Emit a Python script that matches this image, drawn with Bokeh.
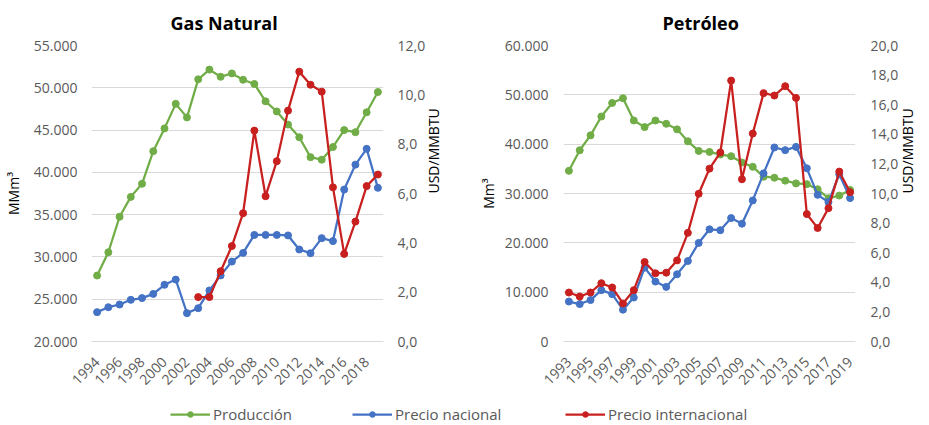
import math
from bokeh.plotting import figure
from bokeh.models import Range1d, LinearAxis, FixedTicker, Legend, LegendItem, ColumnDataSource
from bokeh.layouts import column, row
from bokeh.embed import file_html
from bokeh.resources import INLINE

# ---------------- data ----------------
gas_years = list(range(1994, 2020))
gas_produccion = [27800, 30550, 34750, 37100, 38650, 42500, 45200, 48100, 46500, 51000,
                  52150, 51300, 51700, 50950, 50450, 48400, 47200, 45650, 44150, 41800,
                  41500, 43000, 45000, 44750, 47100, 49500]
gas_precio_nacional = [1.19, 1.39, 1.50, 1.69, 1.76, 1.93, 2.30, 2.51, 1.15, 1.35,
                       2.07, 2.68, 3.24, 3.59, 4.32, 4.32, 4.32, 4.30, 3.73, 3.58,
                       4.19, 4.07, 6.16, 7.17, 7.81, 6.23]
gas_int_years = list(range(2003, 2020))
gas_precio_internacional = [1.80, 1.80, 2.85, 3.87, 5.20, 8.55, 5.89, 7.31, 9.36, 10.94,
                            10.41, 10.13, 6.25, 3.55, 4.86, 6.30, 6.77]

oil_years = list(range(1993, 2020))
oil_produccion = [34600, 38770, 41790, 45610, 48350, 49300, 44800, 43460, 44800, 44130,
                  43000, 40580, 38630, 38430, 37890, 37560, 36280, 35410, 33400, 33200,
                  32600, 32050, 31900, 30850, 29040, 29580, 30720]
oil_precio_nacional = [2.70, 2.53, 2.80, 3.47, 3.20, 2.15, 2.97, 4.99, 4.05, 3.69,
                       4.54, 5.44, 6.66, 7.58, 7.52, 8.34, 7.96, 9.53, 11.36, 13.11,
                       12.93, 13.15, 11.70, 9.91, 9.42, 11.30, 9.69]
oil_precio_internacional = [3.31, 3.04, 3.31, 3.94, 3.65, 2.57, 3.47, 5.37, 4.61, 4.65,
                            5.48, 7.34, 9.98, 11.68, 12.77, 17.63, 10.96, 14.05, 16.78, 16.62,
                            17.25, 16.46, 8.61, 7.67, 9.01, 11.48, 10.09]

gas_left_ticks = [20000, 25000, 30000, 35000, 40000, 45000, 50000, 55000]
gas_right_ticks = [0, 2, 4, 6, 8, 10, 12]
oil_left_ticks = [0, 10000, 20000, 30000, 40000, 50000, 60000]
oil_right_ticks = [0, 2, 4, 6, 8, 10, 12, 14, 16, 18, 20]
gas_x_ticks = list(range(1994, 2020, 2))
oil_x_ticks = list(range(1993, 2020, 2))

labels = ["Producción", "Precio nacional", "Precio internacional"]

# ---------------- style ----------------
FONT = "Open Sans"
GREEN = "#70ad47"
BLUE = "#4472c4"
RED = "#c8201f"
TXT = "#595959"
GRID = "#d9d9d9"
H = 395
TOP = 45
FRAME_H = 296
LW = 2.25
MS = 7


def fmt_thousands(v):
    return f"{int(v):,}".replace(",", ".")


def fmt_dec(v):
    return f"{v:.1f}".replace(".", ",")


def make_chart(title, width, lb, rb, xr, xticks, yr, yticks, ylabel, rr, rticks,
               lstand, llabstand, rstand, rlabstand, title_offset):
    p = figure(width=width, height=H, output_backend="svg", toolbar_location=None,
               x_range=Range1d(*xr), y_range=Range1d(*yr),
               min_border_left=lb, min_border_right=rb, min_border_top=TOP,
               min_border_bottom=H - TOP - FRAME_H, title=title)
    p.outline_line_color = None
    p.title.align = "left"
    p.title.offset = title_offset
    p.title.vertical_align = "top"
    p.title.text_font = FONT
    p.title.text_font_size = "18px"
    p.title.text_font_style = "bold"
    p.title.text_color = "#000000"
    p.title.standoff = 17
    p.extra_y_ranges = {"price": Range1d(*rr)}

    # x axis
    xa = p.xaxis[0]
    xa.ticker = FixedTicker(ticks=xticks)
    xa.major_label_orientation = math.pi / 4
    xa.major_tick_line_color = None
    xa.major_tick_out = 0
    xa.major_tick_in = 0
    xa.minor_tick_line_color = None
    xa.axis_line_color = GRID
    xa.major_label_text_font = FONT
    xa.major_label_text_font_size = "14px"
    xa.major_label_text_color = TXT
    xa.major_label_standoff = 18

    # left axis
    ya = p.yaxis[0]
    ya.ticker = FixedTicker(ticks=yticks)
    ya.major_label_overrides = {t: fmt_thousands(t) for t in yticks}
    ya.major_tick_line_color = None
    ya.major_tick_out = 0
    ya.major_tick_in = 0
    ya.minor_tick_line_color = None
    ya.axis_line_color = None
    ya.major_label_text_font = FONT
    ya.major_label_text_font_size = "14px"
    ya.major_label_text_color = TXT
    ya.major_label_standoff = lstand
    ya.axis_label = ylabel
    ya.axis_label_text_font = FONT
    ya.axis_label_text_font_size = "14px"
    ya.axis_label_text_font_style = "normal"
    ya.axis_label_text_color = "#000000"
    ya.axis_label_standoff = llabstand

    # right axis
    ra = LinearAxis(y_range_name="price", ticker=FixedTicker(ticks=rticks))
    ra.major_label_overrides = {t: fmt_dec(t) for t in rticks}
    ra.major_tick_line_color = None
    ra.major_tick_out = 0
    ra.major_tick_in = 0
    ra.minor_tick_line_color = None
    ra.axis_line_color = None
    ra.major_label_text_font = FONT
    ra.major_label_text_font_size = "14px"
    ra.major_label_text_color = TXT
    ra.major_label_standoff = rstand
    ra.axis_label = "USD/MMBTU"
    ra.axis_label_text_font = FONT
    ra.axis_label_text_font_size = "14px"
    ra.axis_label_text_font_style = "normal"
    ra.axis_label_text_color = "#000000"
    ra.axis_label_standoff = rlabstand
    ra.axis_label_orientation = math.pi / 2
    p.add_layout(ra, "right")

    p.xgrid.visible = False
    p.ygrid.grid_line_color = GRID
    p.ygrid.grid_line_width = 1
    p.ygrid.ticker = FixedTicker(ticks=yticks)
    return p


def add_series(p, x, y, color, range_name=None):
    kw = {} if range_name is None else {"y_range_name": range_name}
    src = ColumnDataSource(dict(x=x, y=y))
    ln = p.line("x", "y", source=src, line_color=color, line_width=LW, **kw)
    sc = p.scatter("x", "y", source=src, marker="circle", size=MS, fill_color=color,
                   line_color=color, **kw)
    return ln, sc


# page has no margin: p1 0..455 (frame 88..385), p2 455..929 (frame 563..860)
p1 = make_chart("Gas Natural", 455, 88, 70, (1993.5, 2019.5), gas_x_ticks,
                (20000, 55000), gas_left_ticks, "MMm³", (0, 12), gas_right_ticks,
                14, 8, 14, 5, 79)
add_series(p1, gas_years, gas_produccion, GREEN)
add_series(p1, gas_years, gas_precio_nacional, BLUE, "price")
add_series(p1, gas_int_years, gas_precio_internacional, RED, "price")

p2 = make_chart("Petróleo", 474, 108, 69, (1992.5, 2019.5), oil_x_ticks,
                (0, 60000), oil_left_ticks, "Mm³", (0, 20), oil_right_ticks,
                15, 4, 15, 6, 99)
add_series(p2, oil_years, oil_produccion, GREEN)
add_series(p2, oil_years, oil_precio_nacional, BLUE, "price")
add_series(p2, oil_years, oil_precio_internacional, RED, "price")

# ---------------- legend strip ----------------
LH = 425 - H
pl = figure(width=929, height=LH, output_backend="svg", toolbar_location=None,
            x_range=Range1d(0, 1), y_range=Range1d(-1e6, -1e6 + 1),
            min_border=0, min_border_left=0, min_border_right=0,
            min_border_top=0, min_border_bottom=0)
pl.outline_line_color = None
pl.axis.visible = False
pl.grid.visible = False
legend_x = [170, 352, 565]
legend_series = [(oil_years, oil_produccion), (oil_years, oil_precio_nacional),
                 (oil_years, oil_precio_internacional)]
for lab, col, lx, (sx, sy) in zip(labels, [GREEN, BLUE, RED], legend_x, legend_series):
    src = ColumnDataSource(dict(x=sx, y=sy))
    ln = pl.line("x", "y", source=src, line_color=col, line_width=LW)
    sc = pl.scatter("x", "y", source=src, marker="circle", size=5, fill_color=col,
                    line_color=col)
    lg = Legend(items=[LegendItem(label=lab, renderers=[ln, sc])], location=(lx, 1),
                orientation="horizontal", border_line_color=None,
                background_fill_alpha=0, padding=0, margin=0, glyph_width=40,
                glyph_height=14, label_height=14, label_standoff=3,
                label_text_font=FONT, label_text_font_size="15px",
                label_text_color=TXT)
    pl.add_layout(lg, "center")

layout = column(row(p1, p2, spacing=0), pl, spacing=0)
open("out.html", "w").write(file_html(layout, INLINE))
